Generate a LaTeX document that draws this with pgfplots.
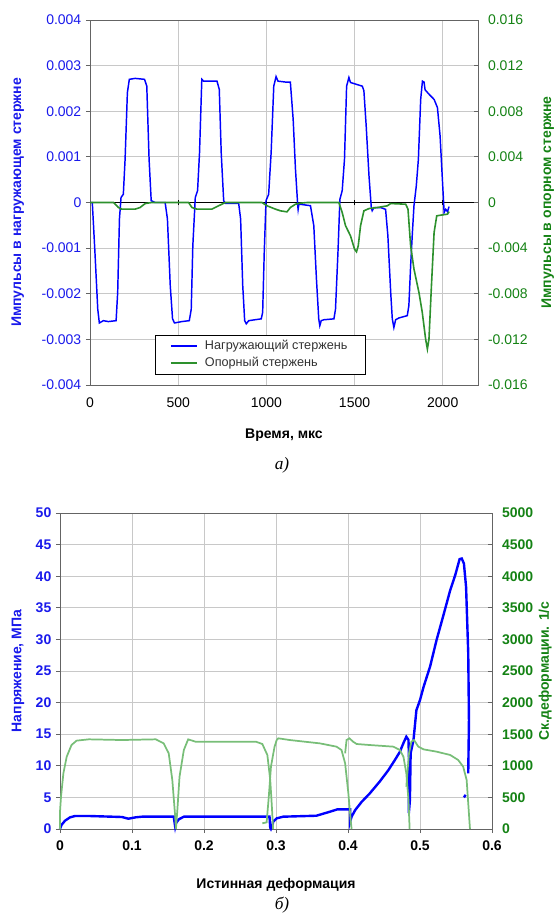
\documentclass[border=0pt]{standalone}
\usepackage{fontspec}
\setmainfont{Liberation Sans}
\newfontfamily\capfont{Liberation Serif}
\usepackage{pgfplots}
\pgfplotsset{compat=1.18}
\definecolor{lblue}{RGB}{0,0,255}
\definecolor{tblue}{RGB}{25,25,235}
\definecolor{tgreen}{RGB}{20,130,20}
\definecolor{lgreen}{RGB}{45,145,45}
\definecolor{sgreen}{RGB}{120,190,120}
\definecolor{gridc}{RGB}{200,200,200}
\definecolor{framec}{RGB}{100,100,100}

\pgfplotsset{
  base/.style={scale only axis, axis line style={framec, line width=0.7pt},
    tick style={framec, line width=0.6pt}, major tick length=3pt,
    tick label style={font=\fontsize{10.5}{12}\selectfont},
    label style={font=\bfseries\fontsize{10.5}{12}\selectfont},
    scaled ticks=false, clip=false},
}

\begin{document}
\begin{tikzpicture}
\useasboundingbox (0,0) rectangle (418.5pt,-690.75pt);

% ---------- a) impulses ----------
\begin{axis}[base, at={(67.5pt,-15pt)}, anchor=north west, width=291pt, height=273.75pt,
  xmin=0, xmax=2200, ymin=-0.004, ymax=0.004,
  xtick={0,500,1000,1500,2000}, xticklabels={0,500,1000,1500,2000},
  ytick={-0.004,-0.003,-0.002,-0.001,0,0.001,0.002,0.003,0.004},
  yticklabels={-0.004,-0.003,-0.002,-0.001,0,0.001,0.002,0.003,0.004},
  grid=major, grid style={gridc, line width=0.6pt},
  xtick style={draw=none}, ytick pos=left, tick align=outside,
  yticklabel style={text=tblue}, xticklabel style={yshift=-3pt},
  ylabel={Импульсы в нагружающем стержне},
  ylabel style={at={(axis description cs:-0.186,0.5)}, anchor=center, text=tblue},
  xlabel={Время, мкс},
  xlabel style={at={(axis description cs:0.5,-0.137)}, anchor=center}]
\draw[black, line width=0.6pt] (axis cs:0,0) -- (axis cs:2200,0);
\draw[black, line width=0.6pt] (axis cs:500,-0.00006) -- (axis cs:500,0.00006);
\draw[black, line width=0.6pt] (axis cs:1000,-0.00006) -- (axis cs:1000,0.00006);
\draw[black, line width=0.6pt] (axis cs:1500,-0.00006) -- (axis cs:1500,0.00006);
\draw[black, line width=0.6pt] (axis cs:2000,-0.00006) -- (axis cs:2000,0.00006);
\addplot[lblue, line width=1.1pt] coordinates {
(0,0)(13,0)(28,-0.00109)(44,-0.00234)(53,-0.00264)(76,-0.00259)(104,-0.00261)(148,-0.00259)
(157,-0.00197)(167,-0.00036)(176,0.00011)(189,0.00018)(199,0.00095)(212,0.00241)(223,0.0027)
(256,0.00272)(309,0.0027)(322,0.00255)(335,0.00095)(347,0.00004)(369,0)(426,0)(439,-0.00036)
(455,-0.00182)(468,-0.00255)(479,-0.00264)(521,-0.00261)(563,-0.00259)(574,-0.00234)(583,-0.00095)
(597,0.00011)(610,0.00026)(621,0.00109)(634,0.0027)(644,0.00266)(720,0.00266)(733,0.00248)
(744,0.00109)(758,0.00004)(767,-0.00002)(843,-0.00002)(854,-0.00036)(866,-0.00182)(877,-0.00259)
(886,-0.00266)(900,-0.00259)(971,-0.00255)(979,-0.00241)(988,-0.00109)(998,0.00004)(1013,0.00018)
(1027,0.00109)(1042,0.00255)(1055,0.00276)(1066,0.00266)(1108,0.00264)(1136,0.00264)(1152,0.00182)
(1165,0.00073)(1178,-0.00007)(1180,-0.00015)(1184,-0.00004)(1193,-0.00004)(1250,-0.00007)
(1269,-0.00051)(1284,-0.00168)(1297,-0.00255)(1303,-0.0027)(1311,-0.00259)(1326,-0.00257)
(1383,-0.00255)(1392,-0.00234)(1406,-0.00109)(1417,0.00007)(1430,0.00026)(1443,0.00095)
(1455,0.00255)(1468,0.00274)(1477,0.00263)(1544,0.00255)(1553,0.00245)(1566,0.00168)(1582,0.00058)
(1595,-0.00011)(1600,-0.00018)(1610,-0.00011)(1648,-0.00011)(1676,-0.00015)(1689,-0.00073)
(1705,-0.00197)(1714,-0.00255)(1723,-0.00274)(1733,-0.00257)(1752,-0.00253)(1799,-0.00248)
(1808,-0.00226)(1818,-0.00139)(1828,-0.00066)(1837,-0.00007)(1850,0.00036)(1862,0.00095)
(1875,0.00226)(1885,0.00266)(1894,0.00264)(1900,0.00247)(1923,0.00237)(1951,0.00226)(1970,0.00208)
(1985,0.00146)(1998,0.00051)(2008,-0.00022)(2017,-0.00015)(2027,-0.0002)(2036,-0.00009)};
\end{axis}

\begin{axis}[base, at={(67.5pt,-15pt)}, anchor=north west, width=291pt, height=273.75pt,
  xmin=0, xmax=2200, ymin=-0.016, ymax=0.016,
  axis y line*=right, axis x line=none, tick align=inside,
  ytick={-0.016,-0.012,-0.008,-0.004,0,0.004,0.008,0.012,0.016},
  yticklabels={-0.016,-0.012,-0.008,-0.004,0,0.004,0.008,0.012,0.016},
  yticklabel style={text=tgreen, xshift=4pt},
  ylabel={Импульсы в опорном стержне},
  ylabel style={at={(axis description cs:1.18,0.5)}, anchor=center, text=tgreen},
  legend style={at={(0.168,0.03)}, anchor=south west, draw=black, fill=white,
    font=\fontsize{9.5}{11}\selectfont, text=black!80, row sep=0pt,
    inner xsep=11pt, inner ysep=2pt},
  legend cell align=left,
  legend image code/.code={\draw[#1] (0cm,0cm) -- (0.7cm,0cm);}]
\addlegendimage{lblue, line width=1.1pt}
\addlegendentry{\hspace{3pt}Нагружающий стержень}
\addplot[lgreen, line width=1.2pt] coordinates {
(0,0)(133,0)(161,-0.00044)(180,-0.00058)(256,-0.00058)(284,-0.00044)(313,-0.00009)(350,0)(559,0)
(578,-0.00044)(606,-0.00058)(691,-0.00058)(729,-0.00029)(767,0)(975,0)(1004,-0.00029)(1051,-0.00058)
(1080,-0.00073)(1117,-0.00082)(1136,-0.00044)(1165,-0.00015)(1193,-0.00006)(1231,0)(1411,0)
(1430,-0.00088)(1449,-0.00204)(1477,-0.00292)(1500,-0.00409)(1511,-0.00432)(1521,-0.0038)
(1534,-0.00204)(1553,-0.00073)(1582,-0.00053)(1629,-0.00044)(1686,-0.00029)(1705,-0.00009)
(1790,-0.00015)(1803,-0.00058)(1818,-0.0038)(1837,-0.00584)(1865,-0.00788)(1884,-0.00964)
(1903,-0.01197)(1913,-0.01285)(1922,-0.01197)(1936,-0.0073)(1951,-0.00263)(1966,-0.00117)
(1989,-0.00111)(2027,-0.00102)(2036,-0.0008)};
\addlegendentry{\hspace{3pt}Опорный стержень}
\end{axis}

\node[font=\capfont\itshape\fontsize{13}{15}\selectfont] at (211.5pt,-348.75pt) {а)};

% ---------- b) stress / strain rate ----------
\begin{axis}[base, at={(45pt,-384.75pt)}, anchor=north west, width=324pt, height=237pt,
  xmin=0, xmax=0.6, ymin=0, ymax=50,
  xtick={0,0.1,0.2,0.3,0.4,0.5,0.6}, xticklabels={0,0.1,0.2,0.3,0.4,0.5,0.6},
  ytick={0,5,10,15,20,25,30,35,40,45,50}, yticklabels={0,5,10,15,20,25,30,35,40,45,50},
  grid=major, grid style={gridc, line width=0.6pt},
  xtick pos=bottom, ytick pos=left, tick align=outside,
  tick label style={font=\bfseries\fontsize{10.5}{12}\selectfont},
  yticklabel style={text=tblue}, xticklabel style={yshift=-2pt},
  ylabel={Напряжение, МПа},
  ylabel style={at={(axis description cs:-0.097,0.5)}, anchor=center, text=tblue},
  xlabel={Истинная деформация},
  xlabel style={at={(axis description cs:0.5,-0.177)}, anchor=center}]
\addplot[lblue, line width=1.8pt] coordinates {
(0,0)(0.002,0.63)(0.007,1.32)(0.014,1.85)(0.021,2.06)(0.04,2.06)(0.086,1.9)(0.095,1.63)(0.105,1.85)
(0.114,1.95)(0.158,1.95)(0.16,0.37)(0.161,0.9)(0.165,1.53)(0.172,1.95)(0.291,1.95)(0.292,0.2)(0.293,0)
(0.295,0.5)(0.296,1.16)(0.301,1.69)(0.31,1.95)(0.356,2.1)(0.375,2.74)(0.385,3.1)(0.403,3.1)(0.403,1.16)
(0.405,1.95)(0.41,3.0)(0.419,4.3)(0.43,5.6)(0.444,7.5)(0.456,9.3)(0.465,10.9)(0.472,12.2)(0.477,13.6)
(0.481,14.6)(0.484,14.1)(0.485,9.9)(0.4845,2.5)(0.486,4.6)(0.487,12)(0.491,14.1)(0.495,18.8)(0.5,20.4)
(0.505,22.5)(0.514,25.7)(0.523,29.9)(0.532,33.6)(0.542,37.8)(0.549,40.2)(0.555,42.7)(0.558,42.8)
(0.561,42.0)(0.564,38.3)(0.567,27.8)(0.568,17.2)(0.567,8.8)};
\addplot[lblue, line width=1.8pt] coordinates {(0.561,5.0)(0.5635,5.4)};
\end{axis}

\begin{axis}[base, at={(45pt,-384.75pt)}, anchor=north west, width=324pt, height=237pt,
  xmin=0, xmax=0.6, ymin=0, ymax=5000,
  axis y line*=right, axis x line=none, tick align=inside,
  ytick={0,500,1000,1500,2000,2500,3000,3500,4000,4500,5000},
  yticklabels={0,500,1000,1500,2000,2500,3000,3500,4000,4500,5000},
  tick label style={font=\bfseries\fontsize{10.5}{12}\selectfont},
  yticklabel style={text=tgreen, xshift=4pt},
  ylabel={Ск.деформации. 1/с},
  ylabel style={at={(axis description cs:1.123,0.5)}, anchor=center, text=tgreen}]
\addplot[sgreen, line width=1.3pt] coordinates {
(0,0)(0,274)(0.0014,512)(0.0047,880)(0.0093,1144)(0.016,1329)(0.023,1398)(0.04,1419)(0.086,1408)
(0.133,1419)(0.144,1355)(0.151,1197)(0.156,775)(0.16,195)(0.161,0)(0.163,300)(0.166,828)(0.172,1250)
(0.178,1419)(0.188,1382)(0.226,1382)(0.272,1382)(0.281,1345)(0.288,1171)(0.292,775)(0.294,406)(0.296,0)};
\addplot[sgreen, line width=1.3pt] coordinates {
(0.281,90)(0.287,105)(0.29,512)(0.293,986)(0.2963,1197)(0.298,1303)(0.301,1408)(0.3032,1435)(0.319,1408)
(0.361,1355)(0.384,1303)(0.391,1250)(0.396,1039)(0.4005,564)(0.4037,142)(0.405,0)};
\addplot[sgreen, line width=1.3pt] coordinates {
(0.396,1197)(0.398,1408)(0.402,1435)(0.407,1382)(0.412,1345)(0.43,1329)(0.463,1303)(0.472,1250)
(0.477,1144)(0.481,881)(0.484,459)(0.4856,0)};
\addplot[sgreen, line width=1.3pt] coordinates {
(0.481,670)(0.4847,1197)(0.488,1382)(0.4917,1408)(0.4977,1303)(0.505,1260)(0.523,1224)(0.542,1171)
(0.553,1092)(0.56,986)(0.5648,775)(0.567,406)(0.5694,0)};
\end{axis}

\node[font=\capfont\itshape\fontsize{13}{15}\selectfont] at (211.5pt,-678.75pt) {б)};
\end{tikzpicture}
\end{document}
